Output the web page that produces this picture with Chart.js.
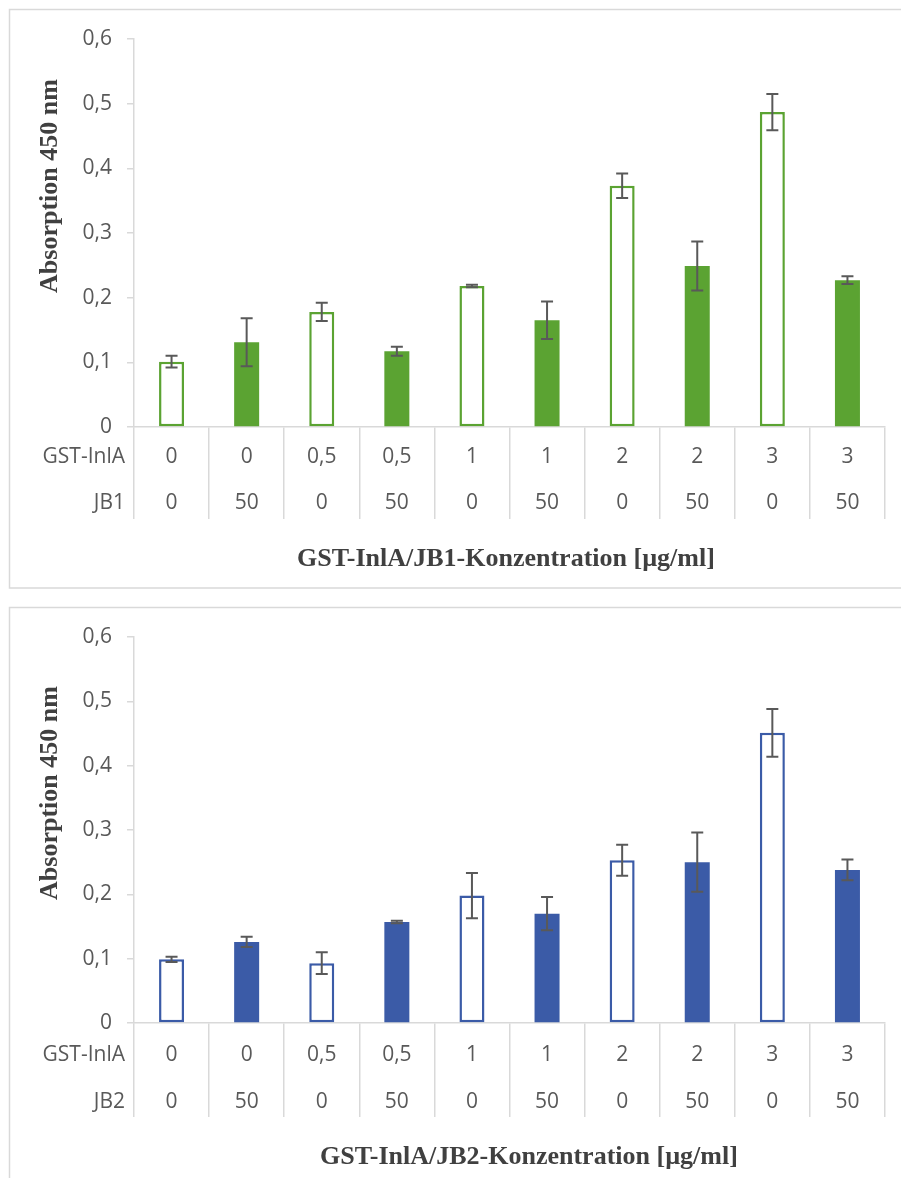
<!DOCTYPE html>
<html>
<head>
<meta charset="utf-8">
<script src="https://cdn.jsdelivr.net/npm/chart.js@4.4.1/dist/chart.umd.min.js"></script>
<style>
  html, body { margin: 0; padding: 0; background: #fff; }
  canvas { display: block; }
</style>
</head>
<body>
<canvas id="c1" width="901" height="598"></canvas>
<canvas id="c2" width="901" height="580"></canvas>
<script>
// Kategorien (zweizeilige Achse)
const gstInlA = ['0', '0', '0,5', '0,5', '1', '1', '2', '2', '3', '3'];
const jbConc = ['0', '50', '0', '50', '0', '50', '0', '50', '0', '50'];
const yTickLabels = ['0', '0,1', '0,2', '0,3', '0,4', '0,5', '0,6'];

// JB1
const jb1Mean = [0.101, 0.131, 0.178, 0.117, 0.218, 0.165, 0.373, 0.249, 0.487, 0.227];
const jb1Err = [0.009, 0.037, 0.014, 0.007, 0.002, 0.029, 0.019, 0.038, 0.028, 0.006];

// JB2
const jb2Mean = [0.099, 0.126, 0.093, 0.157, 0.198, 0.170, 0.253, 0.250, 0.451, 0.238];
const jb2Err = [0.004, 0.008, 0.017, 0.002, 0.035, 0.026, 0.024, 0.046, 0.037, 0.016];

const GRID = '#D9D9D9';
const TXT = '#595959';
const SANS = '"Open Sans", "Noto Sans", sans-serif';
const SERIF = '"Liberation Serif", "Times New Roman", serif';
const FS = 21;

// Fehlerbalken, Rahmen, Zeilenbeschriftung und Achsentitel
const extras = {
  id: 'extras',
  beforeDraw(chart, args, o) {
    const ctx = chart.ctx;
    ctx.save();
    ctx.strokeStyle = GRID;
    ctx.lineWidth = 1.5;
    ctx.strokeRect(9.5, 9.5, 950, o.frameH);
    ctx.restore();
  },
  afterDatasetsDraw(chart, args, o) {
    const ctx = chart.ctx, y = chart.scales.y;
    const vals = chart.data.datasets[0].data;
    ctx.save();
    ctx.strokeStyle = '#595959';
    ctx.lineWidth = 2;
    chart.getDatasetMeta(0).data.forEach((bar, i) => {
      const top = y.getPixelForValue(vals[i] + o.errors[i]);
      const bot = y.getPixelForValue(vals[i] - o.errors[i]);
      ctx.beginPath();
      ctx.moveTo(bar.x, top); ctx.lineTo(bar.x, bot);
      ctx.moveTo(bar.x - 6, top); ctx.lineTo(bar.x + 6, top);
      ctx.moveTo(bar.x - 6, bot); ctx.lineTo(bar.x + 6, bot);
      ctx.stroke();
    });
    ctx.restore();
  },
  afterDraw(chart, args, o) {
    const ctx = chart.ctx, a = chart.chartArea;
    ctx.save();
    // Zeilenköpfe
    ctx.fillStyle = TXT;
    ctx.font = FS + 'px ' + SANS;
    ctx.textAlign = 'right';
    ctx.textBaseline = 'middle';
    ctx.fillText('GST-InlA', a.left - 9, a.bottom + o.row1);
    ctx.fillText(o.jbName, a.left - 9, a.bottom + o.row1 + o.rowGap);
    // Achsentitel
    ctx.fillStyle = '#404040';
    ctx.font = 'bold 26px ' + SERIF;
    ctx.textAlign = 'center';
    ctx.textBaseline = 'alphabetic';
    ctx.fillText('GST-InlA/' + o.jbName + '-Konzentration [µg/ml]', o.xTitleX, o.xTitleY);
    ctx.translate(57, o.yTitleY);
    ctx.rotate(-Math.PI / 2);
    ctx.fillText('Absorption 450 nm', 0, 0);
    ctx.restore();
  }
};

function makeChart(id, means, errs, color, jbName, p) {
  const ctx = document.getElementById(id).getContext('2d');
  const lineH = p.rowGap;
  return new Chart(ctx, {
    type: 'bar',
    data: {
      labels: gstInlA.map((g, i) => [g, jbConc[i]]),
      datasets: [{
        data: means,
        backgroundColor: jbConc.map(j => j === '0' ? '#FFFFFF' : color),
        borderColor: color,
        borderWidth: jbConc.map(j => j === '0' ? 2.5 : 0),
        borderSkipped: false,
        barPercentage: 0.333,
        categoryPercentage: 1
      }]
    },
    options: {
      responsive: false,
      animation: false,
      layout: { padding: { top: 39, right: 16, left: 0, bottom: 0 } },
      plugins: {
        legend: { display: false },
        tooltip: { enabled: false },
        extras: {
          errors: errs, jbName: jbName, frameH: p.frameH,
          row1: p.row1, rowGap: p.rowGap,
          xTitleX: p.xTitleX, xTitleY: p.xTitleY, yTitleY: p.yTitleY
        }
      },
      scales: {
        x: {
          afterFit(s) { s.height = p.canvasH - p.axisY; },
          grid: { offset: true, drawOnChartArea: false, drawTicks: true, tickLength: p.sepLen, color: GRID, lineWidth: 1.5 },
          border: { display: true, color: GRID, width: 1.5 },
          ticks: {
            color: TXT,
            font: { size: FS, family: SANS, lineHeight: lineH / FS },
            maxRotation: 0,
            autoSkip: false,
            padding: p.row1 - lineH / 2 - p.sepLen
          }
        },
        y: {
          min: 0, max: 0.6,
          afterFit(s) { s.width = 134; },
          grid: { drawOnChartArea: false, drawTicks: true, tickLength: 7, color: GRID, lineWidth: 1.5 },
          border: { display: true, color: GRID, width: 1.5 },
          ticks: {
            stepSize: 0.1,
            color: TXT,
            font: { size: FS, family: SANS },
            padding: 15,
            callback: (v, i) => yTickLabels[i]
          }
        }
      }
    },
    plugins: [extras]
  });
}

makeChart('c1', jb1Mean, jb1Err, '#5BA332', 'JB1', {
  canvasH: 598, axisY: 427, frameH: 578.5, sepLen: 92, row1: 30, rowGap: 46,
  xTitleX: 506, xTitleY: 566, yTitleY: 186
});
makeChart('c2', jb2Mean, jb2Err, '#3B5BA7', 'JB2', {
  canvasH: 580, axisY: 425, frameH: 700, sepLen: 94, row1: 32, rowGap: 47,
  xTitleX: 529, xTitleY: 566, yTitleY: 195
});
</script>
</body>
</html>
